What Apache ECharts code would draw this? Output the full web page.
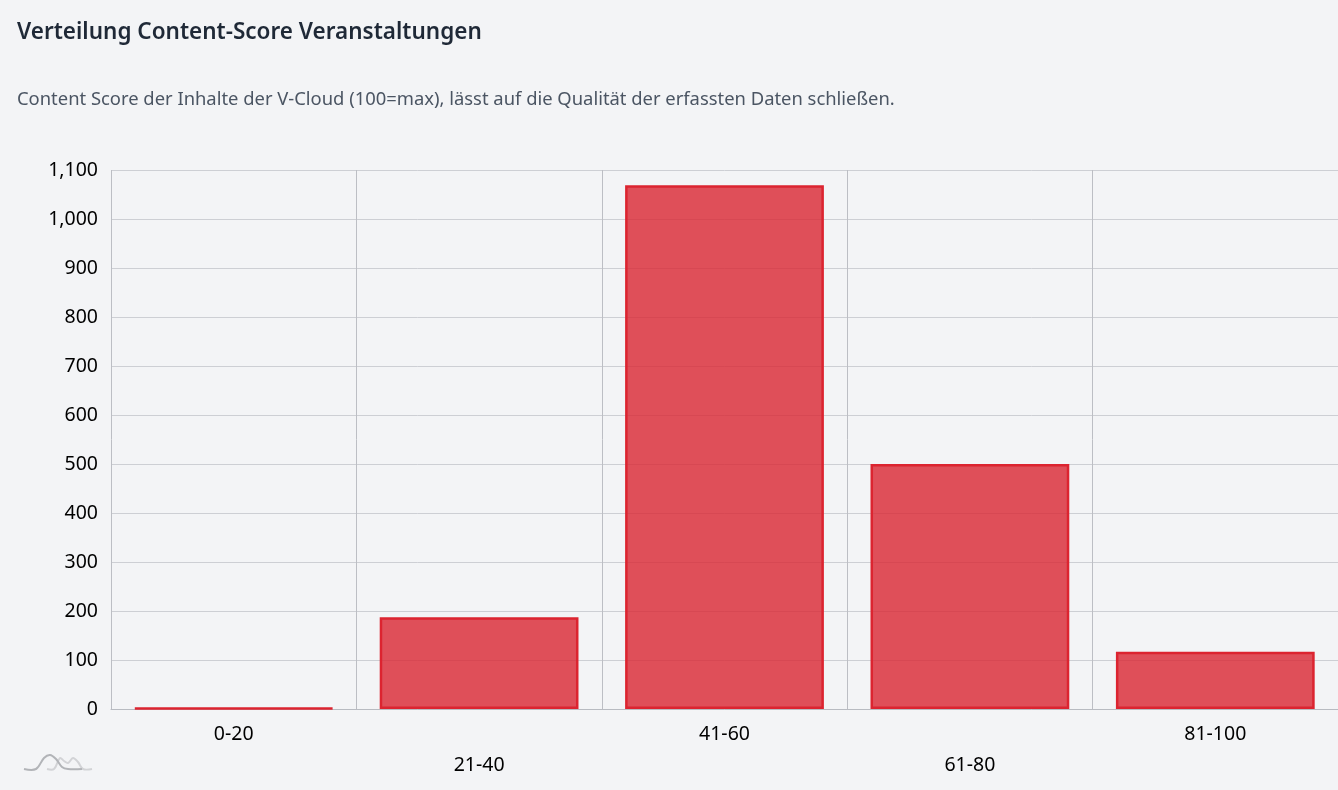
<!DOCTYPE html>
<html><head><meta charset="utf-8">
<style>html,body{margin:0;padding:0;background:#f3f4f6}#c{width:1338px;height:790px}</style>
<script src="https://cdn.jsdelivr.net/npm/echarts@6/dist/echarts.min.js"></script>
</head><body><div id="c"></div>
<script>
const titleText = 'Verteilung Content-Score Veranstaltungen';
const subtitleText = 'Content Score der Inhalte der V-Cloud (100=max), lässt auf die Qualität der erfassten Daten schließen.';
const categories = ['0-20','21-40','41-60','61-80','81-100'];
const counts = [2,187,1069,500,117];
const font = '"Noto Sans", sans-serif';
const chart = echarts.init(document.getElementById('c'));
chart.setOption({
  animation:false,
  backgroundColor:'#f3f4f6',
  textStyle:{fontFamily:font},
  title:[
    {text:titleText,left:17,top:21,padding:0,textStyle:{fontFamily:font,fontSize:22.5,fontWeight:600,color:'#1f2937'}},
    {text:subtitleText,left:17,top:91,padding:0,textStyle:{fontFamily:font,fontSize:18.4,fontWeight:400,color:'#4b5563'}}
  ],
  grid:{left:111,right:0,top:170,bottom:81,containLabel:false},
  xAxis:{type:'category',data:categories,
    axisLine:{lineStyle:{color:'#b8bbc1',width:1}},
    axisTick:{show:false},
    splitLine:{show:true,lineStyle:{color:'#bcbec4',width:1}},
    axisLabel:{interval:0,margin:10,color:'#000',fontSize:19.5,fontFamily:font,lineHeight:31,
      formatter:(v,i)=>i%2?'\n'+v:v}},
  yAxis:{type:'value',min:0,max:1100,interval:100,
    axisLine:{show:false},axisTick:{show:false},
    splitLine:{lineStyle:{color:'#cdcfd4',width:1}},
    axisLabel:{margin:13,color:'#000',fontSize:19.5,fontFamily:font,
      formatter:v=>v.toLocaleString('en-US')}},
  series:[{type:'bar',data:counts,barWidth:'81%',
    itemStyle:{color:'rgba(218,38,50,0.8)',borderColor:'#dc2430',borderWidth:2.5}}],
  graphic:[
    {type:'polyline',silent:true,shape:{smooth:0.35,points:[[47,769],[54,769],[60,758],[64,761],[68,763],[73,758],[78,762],[83,769],[92,769]]},style:{fill:'none',stroke:'#d2d3d6',lineWidth:2}},
    {type:'polyline',silent:true,shape:{smooth:0.35,points:[[24,769],[36,769],[44,758],[50,755],[56,759],[62,767],[68,769],[82,769]]},style:{fill:'none',stroke:'#b2b4b8',lineWidth:2}}
  ]
});
</script></body></html>
